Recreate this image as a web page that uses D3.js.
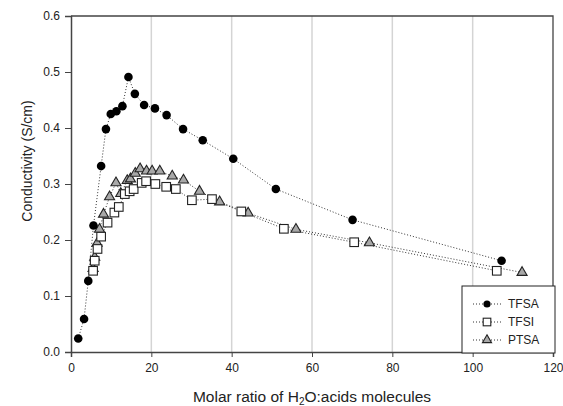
<!DOCTYPE html>
<html><head><meta charset="utf-8">
<script src="https://cdn.jsdelivr.net/npm/d3@7"></script>
<style>body{margin:0;background:#fff}svg{display:block}text{font-family:"Liberation Sans",Arial,sans-serif;fill:#222}</style>
</head><body><svg id="c" width="563" height="406"></svg>
<script>
const xTicks=[0,20,40,60,80,100,120];
const yTicks=[0.0,0.1,0.2,0.3,0.4,0.5,0.6];
const tfsaX=[1.8,3.25,4.3,5.6,7.5,8.7,9.9,11.3,12.8,14.3,15.9,18.2,20.9,23.8,27.9,32.8,40.4,51,70.1,107.2];
const tfsaY=[0.024,0.059,0.127,0.226,0.332,0.398,0.425,0.430,0.439,0.491,0.461,0.441,0.435,0.423,0.398,0.378,0.345,0.291,0.236,0.163];
const tfsiX=[5.5,5.9,6.6,7.5,9.1,10.8,11.9,13.4,14.6,15.6,17.6,18.7,21.0,23.7,26.1,30.1,35.1,42.4,53,70.5,106];
const tfsiY=[0.145,0.163,0.184,0.206,0.231,0.249,0.259,0.282,0.287,0.291,0.302,0.305,0.300,0.295,0.291,0.271,0.273,0.251,0.220,0.196,0.145];
const ptsaX=[5.5,5.9,6.5,7.1,8.1,9.6,11.2,12.4,14.0,14.8,16.0,17.2,18.8,20.2,22.1,25.2,28.0,32,37,44.1,56,74.3,112.3];
const ptsaY=[0.149,0.169,0.194,0.219,0.246,0.277,0.302,0.283,0.306,0.309,0.319,0.327,0.323,0.323,0.323,0.314,0.307,0.287,0.268,0.248,0.219,0.195,0.142];
const seriesNames=["TFSA","TFSI","PTSA"];

const svg=d3.select("#c");
const L=71,R=553,T=16,B=352;
const x=d3.scaleLinear().domain([0,120]).range([L,R]);
const y=d3.scaleLinear().domain([0,0.6]).range([B,T]);

svg.append("g").selectAll("line").data(xTicks.filter(d=>d>0&&d<120)).join("line")
 .attr("x1",d=>x(d)).attr("x2",d=>x(d)).attr("y1",T).attr("y2",B)
 .attr("stroke","#d4d4d4").attr("stroke-width",1.5);
svg.append("path").attr("d",`M${L},${T}H${R}V${B}`).attr("fill","none").attr("stroke","#444").attr("stroke-width",1.3);

const xa=svg.append("g").attr("transform",`translate(0,${B})`)
 .call(d3.axisBottom(x).tickValues(xTicks).tickSize(5).tickPadding(6).tickFormat(d3.format("d")));
const ya=svg.append("g").attr("transform",`translate(${L},0)`)
 .call(d3.axisLeft(y).tickValues(yTicks).tickSize(6).tickPadding(5).tickFormat(d3.format(".1f")));
[xa,ya].forEach(a=>{a.select(".domain").attr("stroke","#444").attr("stroke-width",1.5);
 a.selectAll(".tick line").attr("stroke","#444");
 a.selectAll("text").attr("font-size",12).attr("font-family","Liberation Sans, Arial").attr("fill","#222");});

const series=[
 {name:seriesNames[0],xs:tfsaX,ys:tfsaY,type:"circle"},
 {name:seriesNames[1],xs:tfsiX,ys:tfsiY,type:"square"},
 {name:seriesNames[2],xs:ptsaX,ys:ptsaY,type:"triangle"}];
const line=d3.line().x(d=>x(d[0])).y(d=>y(d[1]));
function marker(g,type){
 if(type==="circle") return g.append("circle").attr("r",4.3).attr("fill","#000");
 if(type==="square") return g.append("rect").attr("x",-4.3).attr("y",-4.3).attr("width",8.6).attr("height",8.6).attr("fill","#fff").attr("stroke","#222").attr("stroke-width",1.1);
 return g.append("path").attr("d",d3.symbol(d3.symbolTriangle,44)()).attr("fill","#a8a8a8").attr("stroke","#222").attr("stroke-width",1.1);
}
series.forEach(s=>{
 const pts=s.xs.map((v,i)=>[v,s.ys[i]]);
 svg.append("path").datum(pts).attr("d",line).attr("fill","none").attr("stroke","#333").attr("stroke-width",1).attr("stroke-dasharray","1,2");
});
series.slice().reverse().forEach(s=>{
 const pts=s.xs.map((v,i)=>[v,s.ys[i]]);
 svg.append("g").selectAll("g").data(pts).join("g").attr("transform",d=>`translate(${x(d[0])},${y(d[1])})`)
  .each(function(){marker(d3.select(this),s.type);});
});

const lg=svg.append("g");
lg.append("rect").attr("x",462).attr("y",286).attr("width",93).attr("height",67).attr("fill","#fff").attr("stroke","#222").attr("stroke-width",1);
series.forEach((s,i)=>{
 const yy=304+i*18;
 lg.append("line").attr("x1",473).attr("x2",501).attr("y1",yy).attr("y2",yy).attr("stroke","#333").attr("stroke-dasharray","1,2");
 const g=lg.append("g").attr("transform",`translate(487,${yy})`);
 const m=marker(g,s.type);
 if(s.type==="circle") m.attr("r",3.6);
 if(s.type==="square") m.attr("x",-3.8).attr("y",-3.8).attr("width",7.6).attr("height",7.6);
 if(s.type==="triangle") m.attr("d",d3.symbol(d3.symbolTriangle,36)());
 lg.append("text").attr("x",508).attr("y",yy+4).attr("font-size",12).text(s.name);
});

const xt=svg.append("text").attr("x",(L+R)/2).attr("y",402).attr("text-anchor","middle").attr("font-size",15.5);
xt.append("tspan").text("Molar ratio of H");
xt.append("tspan").attr("font-size",10).attr("dy",3).text("2");
xt.append("tspan").attr("dy",-3).text("O:acids molecules");
svg.append("text").attr("transform","translate(32,161) rotate(-90)").attr("text-anchor","middle").attr("font-size",14).text("Conductivity (S/cm)");
</script></body></html>
